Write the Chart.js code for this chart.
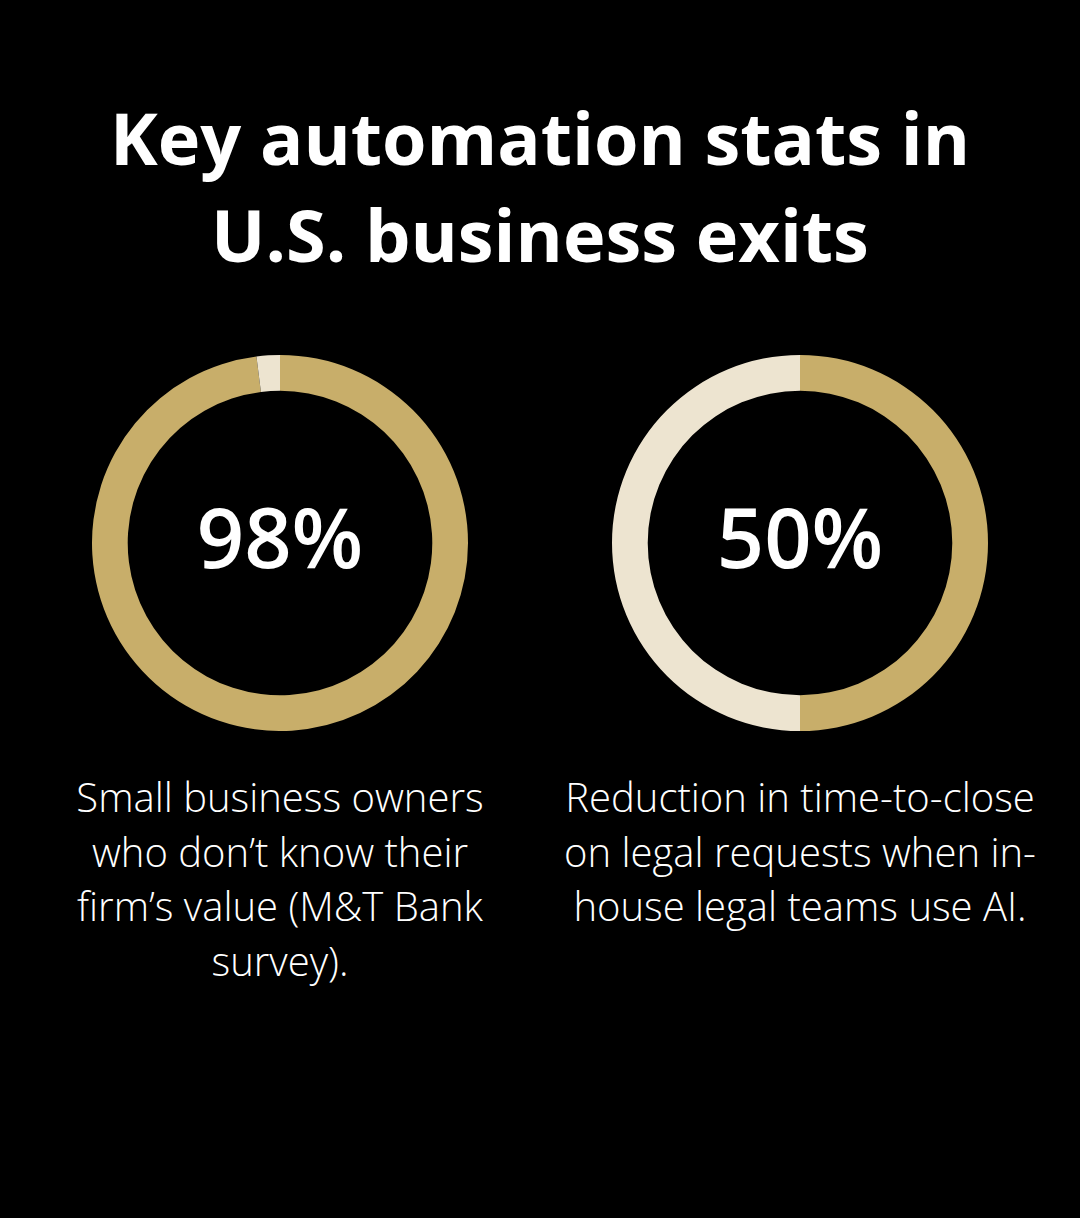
<!DOCTYPE html>
<html>
<head>
<meta charset="utf-8">
<script src="https://cdn.jsdelivr.net/npm/chart.js@4.4.1/dist/chart.umd.min.js"></script>
<style>
  html, body { margin: 0; padding: 0; background: #000; }
  body { width: 1080px; height: 1218px; position: relative; overflow: hidden; font-family: "Open Sans", sans-serif; color: #fff; }
  h1 { position: absolute; left: 0; top: 89px; width: 1080px; margin: 0; text-align: center; font-weight: 700; font-size: 72px; line-height: 97px; }
  .ring { position: absolute; top: 355px; width: 376px; height: 376px; }
  .desc { position: absolute; top: 770px; width: 500px; text-align: center; font-weight: 300; font-size: 40px; line-height: 54.5px; }
</style>
</head>
<body>
<h1>Key automation stats in<br>U.S. business exits</h1>
<div class="ring" style="left:92px"><canvas id="donut1"></canvas></div>
<div class="ring" style="left:612px"><canvas id="donut2"></canvas></div>
<div class="desc" style="left:30px">Small business owners<br>who don’t know their<br>firm’s value (M&amp;T Bank<br>survey).</div>
<div class="desc" style="left:550px">Reduction in time-to-close<br>on legal requests when in-<br>house legal teams use AI.</div>
<script>
const stats = [98, 50];
const sliceLabels = ["Share", "Rest"];
const gold = "#c8ae6a";
const cream = "#ede4d0";

// draws the big percentage in the middle of each ring
const centerText = {
  id: "centerText",
  afterDraw(chart) {
    const ctx = chart.ctx;
    const a = chart.chartArea;
    ctx.save();
    ctx.fillStyle = "#fff";
    ctx.font = "600 83px 'Open Sans'";
    ctx.textAlign = "center";
    ctx.textBaseline = "alphabetic";
    ctx.fillText(chart.options.plugins.centerText.text, (a.left + a.right) / 2, (a.top + a.bottom) / 2 + 25);
    ctx.restore();
  }
};

function makeRing(id, value) {
  new Chart(document.getElementById(id).getContext("2d"), {
    type: "doughnut",
    data: {
      labels: sliceLabels,
      datasets: [{
        data: [value, 100 - value],
        backgroundColor: [gold, cream],
        borderWidth: 0
      }]
    },
    options: {
      responsive: true,
      maintainAspectRatio: false,
      animation: false,
      cutout: "81%",
      layout: { padding: 0 },
      plugins: {
        legend: { display: false },
        tooltip: { enabled: false },
        centerText: { text: value + "%" }
      }
    },
    plugins: [centerText]
  });
}

makeRing("donut1", stats[0]);
makeRing("donut2", stats[1]);
</script>
</body>
</html>
